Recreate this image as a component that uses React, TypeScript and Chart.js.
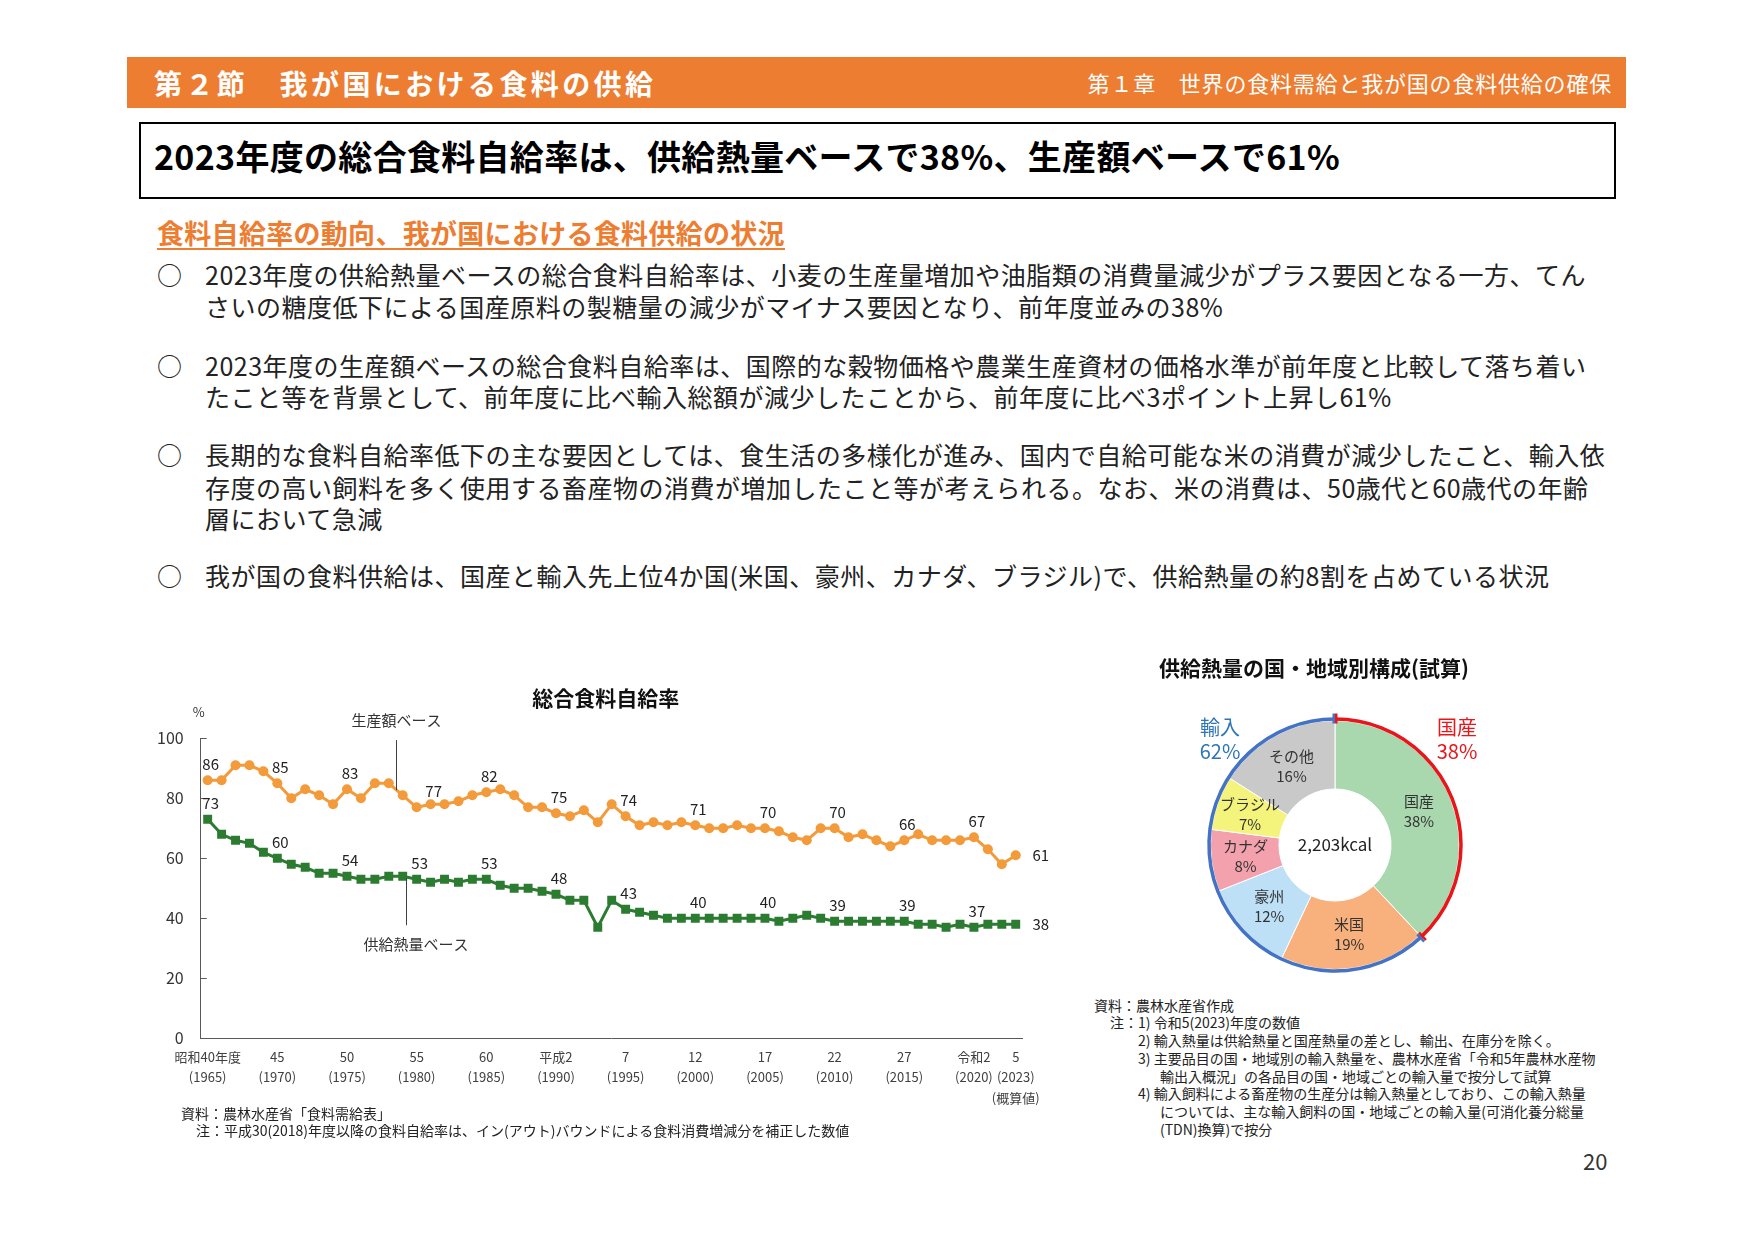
import React, { useEffect, useRef } from "react";
import { Chart, registerables } from "chart.js";

Chart.register(...registerables);

const FONT = "'Noto Sans CJK JP', 'Noto Sans', sans-serif";
Chart.defaults.font.family = FONT;

// ---------- 総合食料自給率 (line chart) ----------
const fiscalYears = [
  1965, 1966, 1967, 1968, 1969, 1970, 1971, 1972, 1973, 1974,
  1975, 1976, 1977, 1978, 1979, 1980, 1981, 1982, 1983, 1984,
  1985, 1986, 1987, 1988, 1989, 1990, 1991, 1992, 1993, 1994,
  1995, 1996, 1997, 1998, 1999, 2000, 2001, 2002, 2003, 2004,
  2005, 2006, 2007, 2008, 2009, 2010, 2011, 2012, 2013, 2014,
  2015, 2016, 2017, 2018, 2019, 2020, 2021, 2022, 2023,
];
const productionValueBase = [
  86, 86, 91, 91, 89, 85, 80, 83, 81, 78,
  83, 80, 85, 85, 81, 77, 78, 78, 79, 81,
  82, 83, 81, 77, 77, 75, 74, 76, 72, 78,
  74, 71, 72, 71, 72, 71, 70, 70, 71, 70,
  70, 69, 67, 66, 70, 70, 67, 68, 66, 64,
  66, 68, 66, 66, 66, 67, 63, 58, 61,
];
const calorieBase = [
  73, 68, 66, 65, 62, 60, 58, 57, 55, 55,
  54, 53, 53, 54, 54, 53, 52, 53, 52, 53,
  53, 51, 50, 50, 49, 48, 46, 46, 37, 46,
  43, 42, 41, 40, 40, 40, 40, 40, 40, 40,
  40, 39, 40, 41, 40, 39, 39, 39, 39, 39,
  39, 38, 38, 37, 38, 37, 38, 38, 38,
];
const tickYears = [1965, 1970, 1975, 1980, 1985, 1990, 1995, 2000, 2005, 2010, 2015, 2020, 2023];
const tickEraLabels = ["昭和40年度", "45", "50", "55", "60", "平成2", "7", "12", "17", "22", "27", "令和2", "5"];
const provisionalNote = "(概算値)";
const yTickValues = [0, 20, 40, 60, 80, 100];
const lineChartTitle = "総合食料自給率";
const unitLabel = "%";
const seriesNames = ["生産額ベース", "供給熱量ベース"];

// ---------- 供給熱量の国・地域別構成 (doughnut) ----------
const regionLabels = ["国産", "米国", "豪州", "カナダ", "ブラジル", "その他"];
const regionShares = [38, 19, 12, 8, 7, 16];
const regionColors = ["#A9D8AF", "#F8B07C", "#BDE0F6", "#F3A1AD", "#F4F47C", "#C9C9C9"];
const totalCalories = "2,203kcal";
const donutTitle = "供給熱量の国・地域別構成(試算)";
const domesticLabel = "国産";
const importLabel = "輸入";

const ORANGE = "#F39A3A";
const GREEN = "#2B7B30";
const AXIS = "#595959";
const RED = "#E8151B";
const BLUE = "#4472C4";
const IMPORT_TEXT = "#2E75B6";

function LineChart() {
  const ref = useRef<HTMLCanvasElement | null>(null);
  useEffect(() => {
    const canvas = ref.current;
    if (!canvas) return;
    const tickLabelFor = (i: number) => {
      const k = tickYears.indexOf(fiscalYears[i]);
      if (k < 0) return "";
      const lines = [tickEraLabels[k], `(${tickYears[k]})`];
      if (k === tickYears.length - 1) lines.push(provisionalNote);
      return lines;
    };
    const decor = {
      id: "lineDecor",
      afterDraw(chart: any) {
        const { ctx, chartArea } = chart;
        const x = chart.scales.x;
        const y = chart.scales.y;
        ctx.save();
        ctx.textAlign = "center";
        ctx.textBaseline = "middle";
        // title
        ctx.fillStyle = "#111";
        ctx.font = `bold 21px ${FONT}`;
        ctx.fillText(lineChartTitle, (chartArea.left + chartArea.right) / 2 - 6, chartArea.top - 40);
        // unit
        ctx.font = `13px ${FONT}`;
        ctx.fillStyle = "#333";
        ctx.fillText(unitLabel, chartArea.left - 2, chartArea.top - 26);
        // inward tick marks
        ctx.strokeStyle = AXIS;
        ctx.lineWidth = 1;
        yTickValues.forEach((v) => {
          if (v === 0) return;
          const py = Math.round(y.getPixelForValue(v)) + 0.5;
          ctx.beginPath();
          ctx.moveTo(chartArea.left, py);
          ctx.lineTo(chartArea.left + 6, py);
          ctx.stroke();
        });
        // data labels
        ctx.font = `15px ${FONT}`;
        ctx.fillStyle = "#222";
        chart.data.datasets.forEach((ds: any, di: number) => {
          const meta = chart.getDatasetMeta(di);
          fiscalYears.forEach((yr, i) => {
            if (!tickYears.includes(yr)) return;
            const pt = meta.data[i];
            const last = i === fiscalYears.length - 1;
            let dx = 3;
            let dy = -16;
            if (last) {
              dx = 25;
              dy = 0;
            }
            if (di === 0 && yr === 1980) dx = 17;
            ctx.fillText(String(ds.data[i]), pt.x + dx, pt.y + dy);
          });
        });
        // series annotations with leader lines
        ctx.strokeStyle = "#404040";
        ctx.fillStyle = "#333";
        ctx.font = `15px ${FONT}`;
        const ann = [
          { text: seriesNames[0], lx: 13.5, tx: 13.55, ty: 106.0, from: 99.4, to: 82.7 },
          { text: seriesNames[1], lx: 14.25, tx: 14.95, ty: 31.4, from: 53.4, to: 37.7 },
        ];
        ann.forEach((a) => {
          const px = Math.round(x.getPixelForValue(a.lx)) + 0.5;
          ctx.beginPath();
          ctx.moveTo(px, y.getPixelForValue(a.from));
          ctx.lineTo(px, y.getPixelForValue(a.to));
          ctx.stroke();
          ctx.fillText(a.text, x.getPixelForValue(a.tx), y.getPixelForValue(a.ty));
        });
        ctx.restore();
      },
    };
    const chart = new Chart(canvas, {
      type: "line",
      data: {
        labels: fiscalYears.map(String),
        datasets: [
          {
            label: seriesNames[0],
            data: productionValueBase,
            borderColor: ORANGE,
            backgroundColor: ORANGE,
            borderWidth: 3,
            pointRadius: 5,
            pointStyle: "circle",
            pointBorderWidth: 0,
            tension: 0,
          },
          {
            label: seriesNames[1],
            data: calorieBase,
            borderColor: GREEN,
            backgroundColor: GREEN,
            borderWidth: 3,
            pointRadius: 6.3,
            pointStyle: "rect",
            pointBorderWidth: 0,
            tension: 0,
          },
        ],
      },
      options: {
        responsive: false,
        animation: false,
        events: [],
        layout: { padding: { left: 0, right: 37.3, top: 58.3, bottom: 0 } },
        plugins: { legend: { display: false }, tooltip: { enabled: false }, title: { display: false } },
        scales: {
          x: {
            type: "category",
            offset: true,
            grid: { display: true, drawOnChartArea: false, drawTicks: false },
            border: { color: AXIS, width: 1 },
            ticks: {
              autoSkip: false,
              maxRotation: 0,
              minRotation: 0,
              padding: 9,
              color: "#404040",
              font: { size: 13, family: FONT, lineHeight: 1.55 },
              callback: (_v: any, i: number) => tickLabelFor(i),
            },
            afterFit: (s: any) => {
              s.height = 81.7;
            },
          },
          y: {
            min: 0,
            max: 100,
            grid: { display: true, drawOnChartArea: false, drawTicks: false },
            border: { color: AXIS, width: 1 },
            ticks: { stepSize: 20, padding: 17, color: "#333", font: { size: 16, family: FONT } },
            afterFit: (s: any) => {
              s.width = 80.7;
            },
          },
        },
      } as any,
      plugins: [decor],
    });
    return () => chart.destroy();
  }, []);
  return (
    <canvas
      ref={ref}
      width={940}
      height={440}
      style={{ position: "absolute", left: 120, top: 680, width: 940, height: 440 }}
    />
  );
}

function DonutChart() {
  const ref = useRef<HTMLCanvasElement | null>(null);
  useEffect(() => {
    const canvas = ref.current;
    if (!canvas) return;
    const domesticShare = regionShares[0];
    const importShare = regionShares.slice(1).reduce((a, b) => a + b, 0);
    const decor = {
      id: "donutDecor",
      afterDraw(chart: any) {
        const { ctx } = chart;
        const arcs = chart.getDatasetMeta(0).data as any[];
        const cx = arcs[0].x;
        const cy = arcs[0].y;
        const R = arcs[0].outerRadius;
        ctx.save();
        ctx.textAlign = "center";
        ctx.textBaseline = "middle";
        // title
        ctx.font = `bold 21px ${FONT}`;
        ctx.fillStyle = "#111";
        ctx.fillText(donutTitle, cx - 21, cy - 177);
        // slice labels
        ctx.font = `15px ${FONT}`;
        ctx.fillStyle = "#333";
        arcs.forEach((arc, i) => {
          const p = arc.tooltipPosition();
          ctx.fillText(regionLabels[i], p.x, p.y - 10);
          ctx.fillText(`${regionShares[i]}%`, p.x, p.y + 10);
        });
        // center total
        ctx.font = `17px ${FONT}`;
        ctx.fillStyle = "#222";
        ctx.fillText(totalCalories, cx, cy);
        // outer group arcs
        const a0 = arcs[0].startAngle;
        const a1 = arcs[0].endAngle;
        const a2 = arcs[arcs.length - 1].endAngle;
        const rr = R + 1.5;
        ctx.lineWidth = 3.5;
        ctx.strokeStyle = RED;
        ctx.beginPath();
        ctx.arc(cx, cy, rr, a0, a1);
        ctx.stroke();
        ctx.strokeStyle = BLUE;
        ctx.beginPath();
        ctx.arc(cx, cy, rr, a1, a2);
        ctx.stroke();
        const marker = (ang: number, ccw: string, cw: string) => {
          ctx.save();
          ctx.translate(cx, cy);
          ctx.rotate(ang);
          ctx.fillStyle = ccw;
          ctx.fillRect(R - 3, -2.5, 10, 2.5);
          ctx.fillStyle = cw;
          ctx.fillRect(R - 3, 0, 10, 2.5);
          ctx.restore();
        };
        marker(a0, BLUE, RED);
        marker(a1, RED, BLUE);
        // group labels
        ctx.font = `20px ${FONT}`;
        ctx.fillStyle = IMPORT_TEXT;
        ctx.fillText(importLabel, cx - 115, cy - 118);
        ctx.fillText(`${importShare}%`, cx - 115, cy - 94);
        ctx.fillStyle = RED;
        ctx.fillText(domesticLabel, cx + 122, cy - 118);
        ctx.fillText(`${domesticShare}%`, cx + 122, cy - 94);
        ctx.restore();
      },
    };
    const chart = new Chart(canvas, {
      type: "doughnut",
      data: {
        labels: regionLabels,
        datasets: [
          {
            data: regionShares,
            backgroundColor: regionColors,
            borderColor: "#ffffff",
            borderWidth: 1,
            hoverBorderWidth: 1,
            hoverOffset: 0,
          },
        ],
      },
      options: {
        responsive: false,
        animation: false,
        events: [],
        cutout: "45%",
        layout: { padding: { left: 125, right: 125, top: 80, bottom: 10 } },
        plugins: { legend: { display: false }, tooltip: { enabled: false } },
      } as any,
      plugins: [decor],
    });
    return () => chart.destroy();
  }, []);
  return (
    <canvas
      ref={ref}
      width={500}
      height={340}
      style={{ position: "absolute", left: 1085, top: 640, width: 500, height: 340 }}
    />
  );
}

function T(props: { x: number; cy: number; size: number; lh: number; children: any; style?: any }) {
  const { x, cy, size, lh, children, style } = props;
  return (
    <div
      style={{
        position: "absolute",
        left: x,
        top: cy - lh / 2,
        fontSize: size,
        lineHeight: `${lh}px`,
        whiteSpace: "nowrap",
        ...style,
      }}
    >
      {children}
    </div>
  );
}

const bodyLines: { text: string; cy: number; bullet: boolean }[] = [
  { text: "2023年度の供給熱量ベースの総合食料自給率は、小麦の生産量増加や油脂類の消費量減少がプラス要因となる一方、てん", cy: 274, bullet: true },
  { text: "さいの糖度低下による国産原料の製糖量の減少がマイナス要因となり、前年度並みの38%", cy: 306, bullet: false },
  { text: "2023年度の生産額ベースの総合食料自給率は、国際的な穀物価格や農業生産資材の価格水準が前年度と比較して落ち着い", cy: 365, bullet: true },
  { text: "たこと等を背景として、前年度に比べ輸入総額が減少したことから、前年度に比べ3ポイント上昇し61%", cy: 396, bullet: false },
  { text: "長期的な食料自給率低下の主な要因としては、食生活の多様化が進み、国内で自給可能な米の消費が減少したこと、輸入依", cy: 454, bullet: true },
  { text: "存度の高い飼料を多く使用する畜産物の消費が増加したこと等が考えられる。なお、米の消費は、50歳代と60歳代の年齢", cy: 487, bullet: false },
  { text: "層において急減", cy: 518, bullet: false },
  { text: "我が国の食料供給は、国産と輸入先上位4か国(米国、豪州、カナダ、ブラジル)で、供給熱量の約8割を占めている状況", cy: 575, bullet: true },
];

const rightNotes: { text: string; x: number; cy: number }[] = [
  { text: "資料：農林水産省作成", x: 1094, cy: 1005 },
  { text: "注：1) 令和5(2023)年度の数値", x: 1110, cy: 1022 },
  { text: "2) 輸入熱量は供給熱量と国産熱量の差とし、輸出、在庫分を除く。", x: 1138, cy: 1040 },
  { text: "3) 主要品目の国・地域別の輸入熱量を、農林水産省「令和5年農林水産物", x: 1138, cy: 1058 },
  { text: "輸出入概況」の各品目の国・地域ごとの輸入量で按分して試算", x: 1160, cy: 1076 },
  { text: "4) 輸入飼料による畜産物の生産分は輸入熱量としており、この輸入熱量", x: 1138, cy: 1093 },
  { text: "については、主な輸入飼料の国・地域ごとの輸入量(可消化養分総量", x: 1160, cy: 1111 },
  { text: "(TDN)換算)で按分", x: 1160, cy: 1129 },
];

export default function App() {
  return (
    <div
      style={{
        position: "absolute",
        left: 0,
        top: 0,
        width: 1755,
        height: 1241,
        background: "#ffffff",
        fontFamily: FONT,
        color: "#111",
        overflow: "hidden",
      }}
    >
      {/* header bar */}
      <div style={{ position: "absolute", left: 127, top: 57, width: 1499, height: 51, background: "#ED7D31" }} />
      <T x={154} cy={83} size={28} lh={36} style={{ color: "#fff", fontWeight: 700, letterSpacing: 3.4 }}>
        第２節　我が国における食料の供給
      </T>
      <div
        style={{
          position: "absolute",
          right: 143,
          top: 82 - 15,
          fontSize: 22,
          lineHeight: "30px",
          color: "#fff",
          whiteSpace: "nowrap",
          letterSpacing: 0.8,
        }}
      >
        第１章　世界の食料需給と我が国の食料供給の確保
      </div>

      {/* headline box */}
      <div
        style={{
          position: "absolute",
          left: 139,
          top: 122,
          width: 1477,
          height: 77,
          border: "2px solid #000",
          boxSizing: "border-box",
        }}
      />
      <T x={154} cy={156} size={34} lh={42} style={{ fontWeight: 700, color: "#000", letterSpacing: 0.3 }}>
        2023年度の総合食料自給率は、供給熱量ベースで38%、生産額ベースで61%
      </T>

      {/* sub heading */}
      <div
        style={{
          position: "absolute",
          left: 157,
          top: 218,
          fontSize: 27,
          lineHeight: "30px",
          fontWeight: 700,
          color: "#ED7D31",
          whiteSpace: "nowrap",
          letterSpacing: 0.3,
          borderBottom: "2px solid #ED7D31",
        }}
      >
        食料自給率の動向、我が国における食料供給の状況
      </div>

      {/* bullets */}
      {bodyLines.map((l, i) => (
        <React.Fragment key={i}>
          {l.bullet && (
            <T x={157} cy={l.cy} size={25} lh={32} style={{ color: "#222" }}>
              ○
            </T>
          )}
          <T x={205} cy={l.cy} size={25} lh={32} style={{ color: "#222", letterSpacing: 0.5 }}>
            {l.text}
          </T>
        </React.Fragment>
      ))}

      <LineChart />
      <DonutChart />

      {/* notes under line chart */}
      <T x={181} cy={1113} size={14} lh={18} style={{ color: "#222" }}>
        資料：農林水産省「食料需給表」
      </T>
      <T x={196} cy={1130} size={14} lh={18} style={{ color: "#222" }}>
        注：平成30(2018)年度以降の食料自給率は、イン(アウト)バウンドによる食料消費増減分を補正した数値
      </T>

      {/* notes under doughnut */}
      {rightNotes.map((n, i) => (
        <T key={i} x={n.x} cy={n.cy} size={14} lh={18} style={{ color: "#222" }}>
          {n.text}
        </T>
      ))}

      <T x={1583} cy={1160} size={22} lh={28} style={{ color: "#333" }}>
        20
      </T>
    </div>
  );
}
